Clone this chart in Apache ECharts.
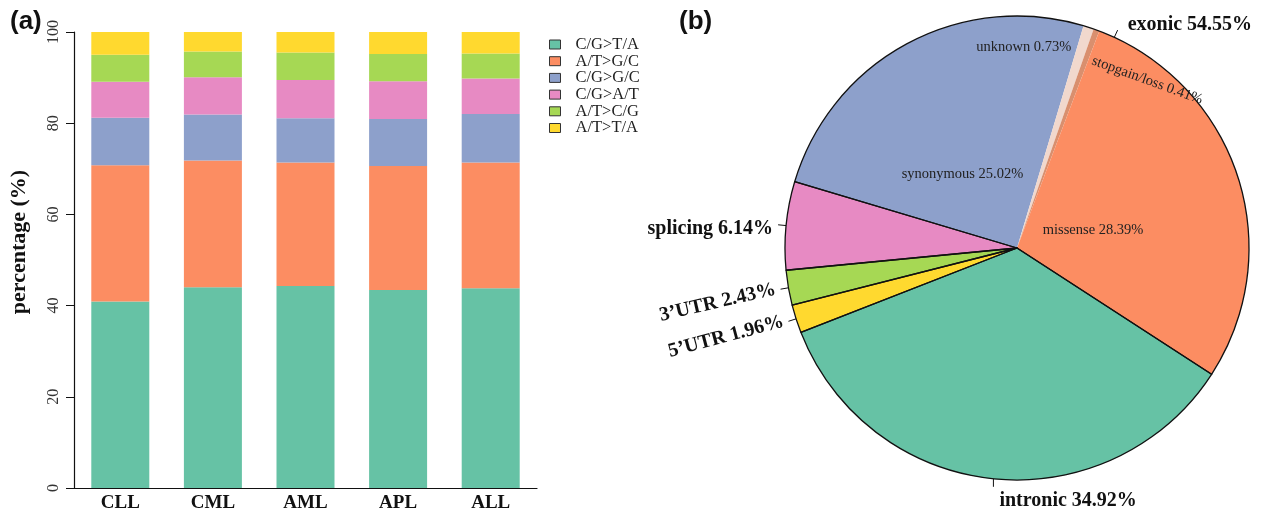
<!DOCTYPE html>
<html>
<head>
<meta charset="utf-8">
<script src="https://cdn.jsdelivr.net/npm/echarts@6/dist/echarts.min.js"></script>
<style>html,body{margin:0;padding:0;background:#fff;}#c{width:1261px;height:513px;}</style>
</head>
<body>
<div id="c"></div>
<script>
// ---- Panel (a): stacked bars ----
const groups = ['CLL', 'CML', 'AML', 'APL', 'ALL'];
const mutationTypes = ['C/G>T/A', 'A/T>G/C', 'C/G>G/C', 'C/G>A/T', 'A/T>C/G', 'A/T>T/A'];
const cgTA = [40.9, 44.0, 44.3, 43.4, 43.8];
const atGC = [29.9, 27.8, 27.1, 27.2, 27.6];
const cgGC = [10.4, 10.1, 9.7, 10.3, 10.6];
const cgAT = [7.9, 8.2, 8.4, 8.3, 7.8];
const atCG = [5.9, 5.6, 6.0, 6.0, 5.5];
const atTA = [5.0, 4.3, 4.5, 4.8, 4.7];
const barValues = [cgTA, atGC, cgGC, cgAT, atCG, atTA];
const yTicks = [0, 20, 40, 60, 80, 100];
const set2 = ['#66C2A5', '#FC8D62', '#8DA0CB', '#E78AC3', '#A6D854', '#FFD92F'];

// ---- Panel (b): pie ----
const subNames = ['synonymous', 'unknown', 'stopgain/loss', 'missense', 'intronic', '5’UTR', '3’UTR', 'splicing'];
const subValues = [25.02, 0.73, 0.41, 28.39, 34.92, 1.96, 2.43, 6.14];
const subColors = ['#8DA0CB', '#F1D8CD', '#D98F6E', '#FC8D62', '#66C2A5', '#FFD92F', '#A6D854', '#E78AC3'];
const groupNames = ['exonic', 'intronic', '5’UTR', '3’UTR', 'splicing'];
const groupValues = [54.55, 34.92, 1.96, 2.43, 6.14];

const serif = 'Liberation Serif';
const chart = echarts.init(document.getElementById('c'), null, {renderer: 'canvas'});

const barSeries = mutationTypes.map((name, i) => ({
  name: name,
  type: 'bar',
  stack: 'total',
  barWidth: 58,
  data: barValues[i],
  itemStyle: {color: set2[i]},
  emphasis: {disabled: true},
  xAxisIndex: 0, yAxisIndex: 0
}));

// inner labels of the fill pie: offsets from library-computed inside positions [dx, dy, rotate]
const innerOffsets = {0: [2, 31, 0], 1: [-30, -88, 0], 2: [65, -83, -20], 3: [-37, 19, 0]};
// outer label nudges [dx, dy]
const outerOffsets = {0: [5, -5], 4: [0, 4]};

const option = {
  animation: false,
  backgroundColor: '#fff',
  textStyle: {fontFamily: serif},
  graphic: [
    {type: 'text', left: 10, top: 9, style: {text: '(a)', font: 'bold 26px "Liberation Sans", Arial, sans-serif', fill: '#111'}},
    {type: 'text', left: 679, top: 9, style: {text: '(b)', font: 'bold 26px "Liberation Sans", Arial, sans-serif', fill: '#111'}}
  ],
  legend: {
    data: mutationTypes,
    orient: 'vertical',
    left: 549,
    top: 36,
    padding: 0,
    itemWidth: 11,
    itemHeight: 9,
    itemGap: -0.3,
    icon: 'rect',
    itemStyle: {borderColor: '#333', borderWidth: 1},
    textStyle: {fontFamily: serif, fontSize: 16.5, color: '#222', padding: [0, 0, 0, 10]}
  },
  grid: {left: 74, top: 32, width: 463, height: 456},
  xAxis: {
    type: 'category',
    data: groups,
    axisLine: {show: true, lineStyle: {color: '#111', width: 1.2}},
    axisTick: {show: false},
    axisLabel: {fontFamily: serif, fontWeight: 'bold', fontSize: 19, color: '#111', margin: 6}
  },
  yAxis: {
    type: 'value',
    min: 0, max: 100, interval: 20,
    name: 'percentage (%)',
    nameLocation: 'middle',
    nameGap: 44,
    nameTextStyle: {fontFamily: serif, fontWeight: 'bold', fontSize: 22, color: '#111', padding: [0, 0, 0, 36]},
    axisLine: {show: true, lineStyle: {color: '#111', width: 1.2}},
    axisTick: {show: true, length: 8, lineStyle: {color: '#111'}},
    splitLine: {show: false},
    axisLabel: {
      rotate: 90, fontFamily: serif, fontSize: 16, color: '#333', margin: 12,
      formatter: v => (yTicks.indexOf(v) >= 0 ? String(v) : '')
    }
  },
  series: barSeries.concat([
    {
      type: 'pie',
      name: 'detail',
      center: [1017, 248],
      radius: 232,
      startAngle: 163.4,
      clockwise: true,
      avoidLabelOverlap: false,
      emphasis: {disabled: true},
      z: 2,
      itemStyle: {borderWidth: 0},
      label: {show: false},
      labelLine: {show: false},
      data: subNames.map((n, i) => ({
        name: n,
        value: subValues[i],
        itemStyle: {color: subColors[i]},
        label: innerOffsets[i] ? {
          show: true, position: 'inside', fontFamily: serif, fontSize: 14.5, color: '#222',
          formatter: '{b} {c}%', rotate: innerOffsets[i][2]
        } : {show: false}
      })),
      labelLayout: function (p) {
        const o = innerOffsets[p.dataIndex];
        if (!o) return {};
        return {dx: o[0], dy: o[1], rotate: o[2]};
      }
    },
    {
      type: 'pie',
      name: 'group',
      center: [1017, 248],
      radius: 232,
      startAngle: 163.4,
      clockwise: true,
      avoidLabelOverlap: false,
      emphasis: {disabled: true},
      z: 3,
      itemStyle: {color: 'rgba(0,0,0,0)', borderColor: '#111', borderWidth: 1.3},
      label: {
        show: true, position: 'outside', fontFamily: serif, fontWeight: 'bold', fontSize: 20,
        color: '#111', formatter: '{b} {c}%'
      },
      labelLine: {show: true, length: 8, length2: 0, smooth: false, lineStyle: {color: '#111', width: 1}},
      data: groupNames.map((n, i) => {
        const d = {name: n, value: groupValues[i]};
        if (n === '5’UTR') d.label = {rotate: 15};
        if (n === '3’UTR') d.label = {rotate: 13};
        return d;
      }),
      labelLayout: function (p) {
        if (p.dataIndex === 1 && p.labelLinePoints) {
          const a = p.labelLinePoints[0];
          const b = [a[0], a[1] + 8];
          return {x: b[0] + 6, y: b[1] + 14, align: 'left', verticalAlign: 'middle', labelLinePoints: [a, b, b]};
        }
        const o = outerOffsets[p.dataIndex];
        if (o) return {dx: o[0], dy: o[1]};
        return {};
      }
    }
  ])
};
chart.setOption(option);
</script>
</body>
</html>
